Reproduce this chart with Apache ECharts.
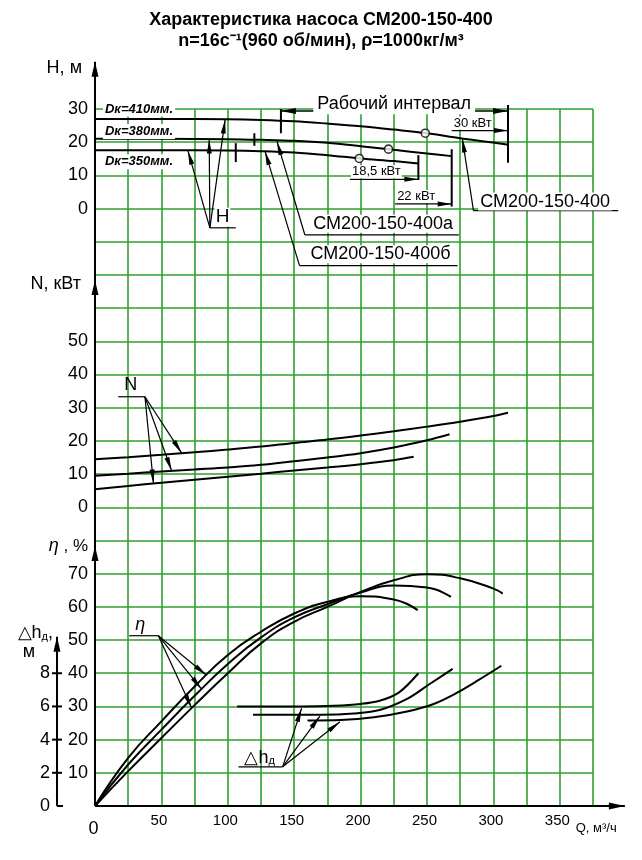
<!DOCTYPE html>
<html><head><meta charset="utf-8">
<script src="https://cdn.jsdelivr.net/npm/echarts@6/dist/echarts.min.js"></script>
<style>html,body{margin:0;padding:0;background:#fff}#c{width:642px;height:860px}</style>
</head><body><div id="c"></div>
<script>
// ---------- data ----------
const xTicks = [0, 50, 100, 150, 200, 250, 300, 350];
const hTicks = [0, 10, 20, 30];
const nTicks = [0, 10, 20, 30, 40, 50];
const etaTicks = [10, 20, 30, 40, 50, 60, 70];
const dhTicks = [0, 2, 4, 6, 8];

// H(Q), m
const qH410 = [0, 50, 100, 125, 150, 175, 200, 225, 250, 275, 300, 311];
const h410  = [27, 27, 26.9, 26.7, 26.3, 25.6, 24.8, 23.8, 22.7, 21.2, 19.9, 19.2];
const qH380 = [0, 50, 100, 125, 150, 175, 200, 225, 250, 268.6];
const h380  = [21, 21, 20.9, 20.7, 20.4, 19.8, 18.8, 17.7, 16.6, 15.8];
const qH350 = [0, 50, 100, 125, 150, 175, 200, 225, 243.5];
const h350  = [17.6, 17.6, 17.5, 17.3, 16.9, 16.1, 15.1, 14.3, 13.6];
// N(Q), kW
const qN410 = [0, 25, 50, 75, 100, 125, 150, 175, 200, 225, 250, 275, 300, 311];
const n410  = [14.5, 15.1, 15.8, 16.6, 17.4, 18.3, 19.4, 20.4, 21.6, 22.9, 24.3, 25.8, 27.5, 28.5];
const qN380 = [0, 25, 50, 75, 100, 125, 150, 175, 200, 225, 250, 267];
const n380  = [9.5, 10.1, 10.8, 11.4, 12.0, 12.8, 13.9, 15.0, 16.3, 18.0, 20.2, 22.0];
const qN350 = [0, 25, 50, 75, 100, 125, 150, 175, 200, 225, 240];
const n350  = [5.4, 6.4, 7.4, 8.3, 9.2, 10.1, 11.1, 12.0, 13.0, 14.2, 15.2];
// eta(Q), %
const qE350 = [0, 25, 50, 75, 100, 125, 150, 175, 200, 225, 243];
const e350  = [0, 14.5, 25.5, 36, 45.5, 52.5, 58, 61.5, 63.2, 62.2, 59];
const qE380 = [0, 25, 50, 75, 100, 125, 150, 175, 200, 225, 250, 268];
const e380  = [0, 12.5, 23, 33.2, 42.8, 50.8, 56.8, 60.8, 64.3, 66.4, 65.8, 63];
const qE410 = [0, 25, 50, 75, 100, 125, 150, 175, 200, 225, 250, 275, 300, 307];
const e410  = [0, 10.5, 20.5, 30.4, 40, 49, 55.5, 60, 64.5, 68, 69.8, 68.6, 65.5, 64];
// NPSH dh(Q), m
const qD350 = [107, 130, 155, 180, 200, 215, 229, 243.5];
const d350  = [6.0, 6.0, 6.0, 6.04, 6.15, 6.36, 6.85, 8.0];
const qD380 = [119, 145, 170, 195, 215, 235, 252, 269.3];
const d380  = [5.5, 5.5, 5.5, 5.58, 5.8, 6.45, 7.35, 8.26];
const qD410 = [160, 185, 210, 235, 255, 272, 289, 306];
const d410  = [5.15, 5.18, 5.35, 5.7, 6.15, 6.8, 7.6, 8.45];
// duty points on H curves
const dutyQ = [248.7, 221, 199];
const dutyH = [22.7, 17.9, 15.1];
// working-range markers (Q, H low, H high)
const markQ  = [140, 120, 106, 311, 268.6, 243.5];
const markLo = [22.7, 18.9, 14, 13.8, 0.6, 8.6];
const markHi = [30, 22.7, 19.7, 31.2, 17.9, 16.1];
// motor power labels
const kwText = ['30 кВт', '18,5 кВт', '22 кВт'];
const kwQ0 = [268.6, 192, 226];
const kwQ1 = [311, 243.5, 268.6];
const kwH  = [23.5, 8.8, 1.4];
const dkText = ['Dк=410мм.', 'Dк=380мм.', 'Dк=350мм.'];
const dkH = [30, 23.2, 14.1];

// ---------- chart ----------
const FONT = '"Liberation Sans", Arial, sans-serif';
const GREEN = '#2f9f2f';
const zip = (q, v) => q.map((x, i) => [x, v[i]]);
const chart = echarts.init(document.getElementById('c'), null, {renderer: 'canvas'});

function curve(q, v, yIdx, sm) {
  return {type: 'line', xAxisIndex: 0, yAxisIndex: yIdx, data: zip(q, v), smooth: sm || 0.35,
    symbol: 'none', lineStyle: {color: '#000', width: 2}, silent: true, z: 5};
}
function yAx(min, max, interval, ticks, extra) {
  return Object.assign({
    type: 'value', min, max, interval, position: 'left',
    axisLine: {show: false}, axisTick: {show: false}, splitLine: {show: false},
    axisLabel: {color: '#000', fontSize: 18, fontFamily: FONT, margin: 7,
      formatter: v => ticks.includes(v) ? String(v) : ''}
  }, extra || {});
}

const option = {
  animation: false,
  backgroundColor: '#fff',
  grid: {left: 95, right: 49, top: 109, bottom: 54},
  xAxis: {
    type: 'value', min: 0, max: 375, interval: 25,
    axisLine: {show: false}, axisTick: {show: false},
    splitLine: {show: true, lineStyle: {color: GREEN, width: 1.6}},
    axisLabel: {margin: 7, color: '#000', fontFamily: FONT,
      formatter: v => v === 0 ? '{z|0}' : (xTicks.includes(v) ? '{n|' + v + '}' : ''),
      rich: {z: {fontSize: 18, fontFamily: FONT, color: '#000', padding: [7, 3, 0, 0]},
             n: {fontSize: 15, fontFamily: FONT, color: '#000', padding: [0, 5, 0, 0]}}}
  },
  yAxis: [
    yAx(-180, 30, 10, hTicks),
    yAx(-90, 120, 10, nTicks),
    yAx(0, 210, 10, etaTicks, {splitLine: {show: true, lineStyle: {color: GREEN, width: 1.6}}}),
    yAx(0, 42, 2, dhTicks, {offset: 38})
  ],
  series: [
    curve(qH410, h410, 0), curve(qH380, h380, 0), curve(qH350, h350, 0),
    curve(qN410, n410, 1), curve(qN380, n380, 1), curve(qN350, n350, 1),
    curve(qE350, e350, 2, 0.5), curve(qE380, e380, 2, 0.5), curve(qE410, e410, 2, 0.5),
    curve(qD350, d350, 3), curve(qD380, d380, 3), curve(qD410, d410, 3),
    {type: 'scatter', xAxisIndex: 0, yAxisIndex: 0, data: zip(dutyQ, dutyH), symbol: 'circle',
     symbolSize: 8, itemStyle: {color: '#fff', borderColor: '#000', borderWidth: 1.6}, z: 10, silent: true}
  ]
};
chart.setOption(option);

// ---------- annotations placed through the axes' own scales ----------
const P = (a, q, v) => chart.convertToPixel({xAxisIndex: 0, yAxisIndex: a}, [q, v]);
const G = [];
function seg(a, b, w) {
  G.push({type: 'line', z: 50, silent: true, shape: {x1: a[0], y1: a[1], x2: b[0], y2: b[1]},
    style: {stroke: '#000', lineWidth: w || 1.2}});
}
function head(from, to, len, wid) {
  const dx = to[0] - from[0], dy = to[1] - from[1], L = Math.hypot(dx, dy), ux = dx / L, uy = dy / L;
  const bx = to[0] - ux * len, by = to[1] - uy * len;
  G.push({type: 'polygon', z: 51, silent: true,
    shape: {points: [[to[0], to[1]], [bx - uy * wid / 2, by + ux * wid / 2], [bx + uy * wid / 2, by - ux * wid / 2]]},
    style: {fill: '#000'}});
}
function arrow(from, to, w, len, wid) { seg(from, to, w); head(from, to, len || 13, wid || 5); }
function txt(s, p, font, align, vAlign, extra) {
  G.push({type: 'text', z: 100, silent: true, x: p[0], y: p[1],
    style: Object.assign({text: s, font: font, fill: '#000', align: align || 'center',
      verticalAlign: vAlign || 'middle'}, extra || {})});
}
const F = sz => sz + 'px ' + FONT;
const FB = sz => 'bold ' + sz + 'px ' + FONT;
const WB = {backgroundColor: '#fff', padding: [1, 2, 1, 2]};

// title
txt('Характеристика насоса СМ200-150-400', [321, 20], FB(18));
txt('n=16с⁻¹(960 об/мин), ρ=1000кг/м³', [321, 41], FB(18));

// main vertical axis with arrows
const o = P(2, 0, 0);
const topH = P(0, 0, 44.2);
seg(o, topH, 2);
head([topH[0], topH[1] + 20], topH, 15, 7);
const aN = P(1, 0, 68.5); head([aN[0], aN[1] + 20], aN, 15, 7);
const aE = P(2, 0, 78.3); head([aE[0], aE[1] + 20], aE, 15, 7);
// x axis
const xEnd = P(2, 399, 0);
seg(o, xEnd, 2); head(o, xEnd, 16, 7);
// NPSH axis line
const dx0 = P(3, 0, 0)[0] - 38;
const d0 = [dx0, P(3, 0, 0)[1]], dTop = [dx0, P(3, 0, 10.2)[1]];
seg(d0, dTop, 2); head([dx0, dTop[1] + 20], dTop, 15, 7);
seg(d0, [dx0 + 6, d0[1]], 2);
dhTicks.filter(v => v > 0).forEach(v => { const y = P(3, 0, v)[1]; seg([dx0 - 5, y], [dx0 + 5, y], 2); });

// axis names
txt('H, м', [P(0, 0, 42.3)[0] - 13, P(0, 0, 42.3)[1]], F(18), 'right');
txt('N, кВт', [P(1, 0, 67.3)[0] - 14, P(1, 0, 67.3)[1]], F(18), 'right');
txt('{i|η} , %', [P(2, 0, 78.2)[0] - 7, P(2, 0, 78.2)[1]], F(17), 'right', 'middle',
  {rich: {i: {font: 'italic 18px ' + FONT}}});
txt('△h{s|д},', [dx0 - 4, P(3, 0, 10.4)[1]], F(18), 'right', 'middle',
  {rich: {s: {font: F(11), verticalAlign: 'bottom'}}});
txt('м', [dx0 - 28, P(3, 0, 9.3)[1]], F(18), 'center');
txt('Q, м³/ч', [P(2, 362, 0)[0], P(2, 362, 0)[1] + 22], F(13), 'left');

// working range
const iv0 = P(0, 140, 29.4), iv1 = P(0, 311, 29.4);
seg(iv0, iv1, 1.4);
head(iv1, iv0, 15, 6); head(iv0, iv1, 15, 6);
txt('Рабочий интервал', P(0, 225.3, 31.6), F(18), 'center', 'middle', {backgroundColor: '#fff', padding: [1, 4, 2, 4]});
markQ.forEach((q, i) => seg(P(0, q, markLo[i]), P(0, q, markHi[i]), 2));
kwText.forEach((s, i) => {
  const a = P(0, kwQ0[i], kwH[i]), b = P(0, kwQ1[i], kwH[i]);
  arrow(a, b, 1.2, 14, 5);
  txt(s, [a[0] + 1, a[1] - 1], F(13), 'left', 'bottom', {backgroundColor: '#fff', padding: [0, 1, 0, 1]});
});
dkText.forEach((s, i) => {
  const p = P(0, 6, dkH[i]);
  txt(s, p, 'italic bold 13px ' + FONT, 'left', 'middle', WB);
});

// H leader
const hb = P(0, 86.5, -5.8);
seg(hb, P(0, 106, -5.8), 1.2);
[[70, 17.4], [86, 20.8], [98, 26.8]].forEach(t => arrow(hb, P(0, t[0], t[1]), 1.2, 14, 5));
txt('H', P(0, 96, -2.6), F(19), 'center', 'middle', {backgroundColor: '#fff', padding: [0, 1, 0, 1]});

// model leaders
function model(label, tip, bend, qEnd, textPos) {
  const b = P(0, bend[0], bend[1]);
  arrow(b, P(0, tip[0], tip[1]), 1.2, 14, 5);
  seg(b, P(0, qEnd, bend[1]), 1.2);
  txt(label, P(0, textPos[0], textPos[1]), F(18), 'center', 'middle', {backgroundColor: '#fff', padding: [0, 2, 0, 2]});
}
model('СМ200-150-400а', [137, 20.3], [158, -7.9], 274, [217, -4.6]);
model('СМ200-150-400б', [128, 17.3], [154, -17.2], 273, [215, -13.8]);
model('СМ200-150-400', [276.6, 21.1], [285, -0.6], 394, [339, 2.1]);

// N leader
const nb = P(1, 37.6, 33.3);
seg(P(1, 17.5, 33.3), nb, 1.2);
[[65.3, 16.3], [57.7, 11.0], [44, 7.2]].forEach(t => arrow(nb, P(1, t[0], t[1]), 1.2, 14, 5));
txt('N', P(1, 27, 36.9), F(18));

// eta leader
const eb = P(2, 47.7, 51.3);
seg(P(2, 25.8, 51.3), eb, 1.2);
[[84, 39.4], [80.3, 35.2], [72.8, 29.5]].forEach(t => arrow(eb, P(2, t[0], t[1]), 1.2, 14, 5));
txt('η', P(2, 34, 54.4), 'italic 18px ' + FONT);

// dh leader
const db = P(3, 141.3, 2.36);
seg(P(3, 108, 2.36), db, 1.2);
[[155.6, 5.9], [169.4, 5.42], [184.5, 5.08]].forEach(t => arrow(db, P(3, t[0], t[1]), 1.2, 14, 5));
txt('△h{s|д}', P(3, 124, 2.9), F(18), 'center', 'middle',
  {rich: {s: {font: F(11), verticalAlign: 'bottom'}}});

chart.setOption({graphic: G});
</script>
</body></html>
